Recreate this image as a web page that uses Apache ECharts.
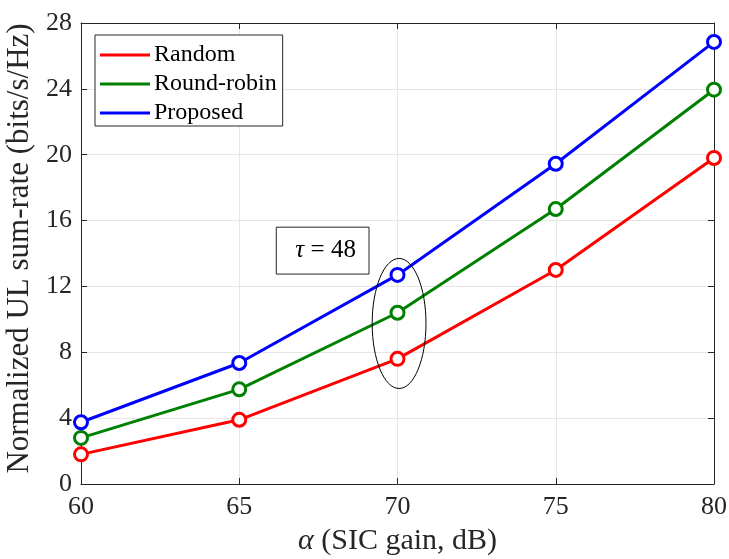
<!DOCTYPE html>
<html><head><meta charset="utf-8">
<script src="https://cdn.jsdelivr.net/npm/echarts@6/dist/echarts.min.js"></script>
<style>html,body{margin:0;padding:0;background:#fff}#c{width:729px;height:559px}</style>
</head><body><div id="c"></div>
<script>
const alphaVals = [60, 65, 70, 75, 80];
const randomVals = [1.8, 3.9, 7.6, 13.0, 19.8];
const roundRobinVals = [2.8, 5.75, 10.4, 16.7, 23.95];
const proposedVals = [3.75, 7.35, 12.7, 19.45, 26.85];
const yTicks = [0, 4, 8, 12, 16, 20, 24, 28];
const ellipseSpec = [70.05, 9.75, 0.85, 3.95]; // center x, center y, half-width (dB), half-height
const tauBox = [66.17, 15.6, 69.1, 12.75]; // x0, y0, x1, y1 in data units
const tauText = '48';

const FONT = '"Liberation Serif", "DejaVu Serif", serif';
const COLORS = { 'Random': '#ff0000', 'Round-robin': '#008000', 'Proposed': '#0000ff' };
const chart = echarts.init(document.getElementById('c'));
function mk(name, vals) {
  const color = COLORS[name];
  return {
    name, type: 'line', data: alphaVals.map((a, i) => [a, vals[i]]),
    lineStyle: { color, width: 3 }, itemStyle: { color: '#fff', borderColor: color, borderWidth: 3 },
    color, symbol: 'circle', symbolSize: 13, z: 5
  };
}
const axisCommon = {
  axisLine: { show: true, onZero: false, lineStyle: { color: '#262626', width: 1 } },
  axisTick: { show: true, inside: true, length: 6, lineStyle: { color: '#262626' } },
};
chart.setOption({
  animation: false,
  grid: { left: 81, right: 15, top: 23, bottom: 75, show: false, containLabel: false, outerBoundsMode: 'none' },
  legend: {
    left: 95, top: 35, orient: 'vertical', icon: 'rect', itemWidth: 50, itemHeight: 3,
    itemGap: 5, padding: [8, 6, 1, 5], borderColor: '#262626', borderWidth: 1, backgroundColor: '#fff',
    textStyle: { fontFamily: FONT, fontSize: 24, color: '#000', padding: [0, 0, 0, -1] },
    data: ['Random', 'Round-robin', 'Proposed'].map(n => ({ name: n, itemStyle: { color: COLORS[n], borderWidth: 0 } }))
  },
  xAxis: [{
    type: 'value', min: 60, max: 80, interval: 5, ...axisCommon,
    axisLabel: { fontFamily: FONT, fontSize: 26, color: '#262626', margin: 10 },
    splitLine: { show: true, lineStyle: { color: '#e6e6e6' } },
    name: '{i|α} (SIC gain, dB)', nameLocation: 'middle', nameGap: 42,
    nameTextStyle: { fontFamily: FONT, fontSize: 30, color: '#262626',
      rich: { i: { fontFamily: FONT, fontStyle: 'italic', fontSize: 30, color: '#262626' } } }
  }, {
    type: 'value', min: 60, max: 80, interval: 5, position: 'top', ...axisCommon,
    axisLabel: { show: false }, splitLine: { show: false }
  }],
  yAxis: [{
    type: 'value', min: yTicks[0], max: yTicks[yTicks.length - 1], interval: 4, ...axisCommon,
    axisLabel: { fontFamily: FONT, fontSize: 26, color: '#262626', margin: 9 },
    splitLine: { show: true, lineStyle: { color: '#e6e6e6' } },
    name: 'Normalized UL sum-rate (bits/s/Hz)', nameLocation: 'middle', nameGap: 37,
    nameTextStyle: { fontFamily: FONT, fontSize: 31, color: '#262626', padding: [0, 0, 0, 10] }
  }, {
    type: 'value', min: 0, max: 28, interval: 4, position: 'right', ...axisCommon,
    axisLabel: { show: false }, splitLine: { show: false }
  }],
  series: [
    mk('Random', randomVals),
    mk('Round-robin', roundRobinVals),
    mk('Proposed', proposedVals),
    {
      type: 'custom', data: [ellipseSpec], z: 10, silent: true,
      renderItem: function (params, api) {
        const c = api.coord([api.value(0), api.value(1)]);
        const e = api.coord([api.value(0) + api.value(2), api.value(1) + api.value(3)]);
        return { type: 'ellipse', shape: { cx: c[0], cy: c[1], rx: Math.abs(e[0] - c[0]), ry: Math.abs(c[1] - e[1]) },
          style: { fill: 'none', stroke: '#000', lineWidth: 1 } };
      }
    },
    {
      type: 'custom', data: [tauBox], z: 10, silent: true,
      renderItem: function (params, api) {
        const a = api.coord([api.value(0), api.value(1)]);
        const b = api.coord([api.value(2), api.value(3)]);
        return { type: 'group', children: [
          { type: 'rect', shape: { x: a[0], y: a[1], width: b[0] - a[0], height: b[1] - a[1] },
            style: { fill: '#fff', stroke: '#262626', lineWidth: 1 } },
          { type: 'text', style: { x: (a[0] + b[0]) / 2 + 3, y: (a[1] + b[1]) / 2, text: '{i|τ} = ' + tauText,
              align: 'center', verticalAlign: 'middle', fill: '#000',
              font: '25px ' + FONT,
              rich: { i: { fontFamily: FONT, fontStyle: 'italic', fontSize: 25, fill: '#000' } } } }
        ] };
      }
    }
  ]
});
</script></body></html>
